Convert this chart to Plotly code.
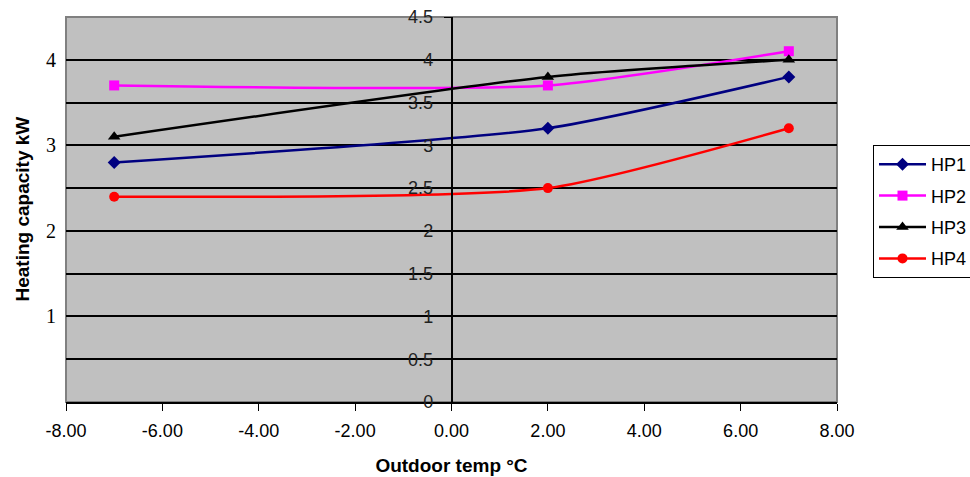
import plotly.graph_objects as go

temps = [-7, 2, 7]
hp1 = [2.8, 3.2, 3.8]
hp2 = [3.7, 3.7, 4.1]
hp3 = [3.1, 3.8, 4.0]
hp4 = [2.4, 2.5, 3.2]

series = [
    ("HP1", hp1, "#000080", "diamond"),
    ("HP2", hp2, "#FF00FF", "square"),
    ("HP3", hp3, "#000000", "triangle-up"),
    ("HP4", hp4, "#FF0000", "circle"),
]

x_ticks = [-8, -6, -4, -2, 0, 2, 4, 6, 8]
x_tick_labels = ["-8.00", "-6.00", "-4.00", "-2.00", "0.00", "2.00", "4.00", "6.00", "8.00"]
y_ticks = [0, 0.5, 1, 1.5, 2, 2.5, 3, 3.5, 4, 4.5]
y_left_ticks = [1, 2, 3, 4]

fig = go.Figure()
for name, vals, color, sym in series:
    fig.add_trace(go.Scatter(
        x=temps, y=vals, name=name, mode="lines+markers", legendgroup=name,
        line=dict(color=color, width=2.5, shape="spline", smoothing=0.6),
        marker=dict(symbol=sym, size=11 if sym == "triangle-up" else 10, color=color),
    ))

annotations = [
    dict(x=0, xref="paper", xshift=-8, y=v, yref="y", text=str(v), showarrow=False,
         xanchor="right", yanchor="middle",
         font=dict(family="Liberation Serif, Times New Roman, serif", size=20, color="#000"))
    for v in y_left_ticks
]
annotations.append(dict(
    x=0, xref="paper", xshift=-44, y=0.5, yref="paper", text="<b>Heating capacity kW</b>",
    textangle=-90, showarrow=False, xanchor="center", yanchor="middle",
    font=dict(size=19, color="#000"),
))

L, R, T, B = 66, 133, 17, 75
W, H = 970, 477
fig.update_layout(
    width=W, height=H,
    margin=dict(l=L, r=R, t=T, b=B, autoexpand=False),
    paper_bgcolor="white",
    plot_bgcolor="#C0C0C0",
    font=dict(family="Arial, Liberation Sans, sans-serif", size=13, color="#000"),
    xaxis=dict(
        range=[-8, 8], tickvals=x_ticks, ticktext=x_tick_labels,
        showgrid=False, zeroline=False, automargin=False,
        showline=True, linecolor="black", linewidth=1.5,
        ticks="outside", ticklen=7, tickcolor="black",
        tickfont=dict(size=18), ticklabelstandoff=5,
        title=dict(text="<b>Outdoor temp °C</b>", font=dict(size=19), standoff=18),
    ),
    yaxis=dict(
        range=[0, 4.5], tickvals=y_ticks,
        anchor="free", position=0.5, automargin=False,
        showgrid=True, gridcolor="black", gridwidth=1.5,
        zeroline=False,
        showline=True, linecolor="black", linewidth=1.5,
        ticks="outside", ticklen=7, tickcolor="black",
        tickfont=dict(size=18, color="#222"),
        ticklabelstandoff=7,
    ),
    legend=dict(
        xref="container", yref="container",
        x=873 / W, y=1 - 145 / H,
        xanchor="left", yanchor="top",
        bgcolor="white", bordercolor="black", borderwidth=1,
        font=dict(size=18), itemwidth=47, tracegroupgap=5,
    ),
    annotations=annotations,
    shapes=[dict(type="rect", xref="paper", yref="paper", x0=0, x1=1, y0=0, y1=1,
                 line=dict(color="#808080", width=2), layer="below")],
    showlegend=True,
)

fig.write_html("out.html", config={"displayModeBar": False},
               post_script="document.body.style.margin='0';")
